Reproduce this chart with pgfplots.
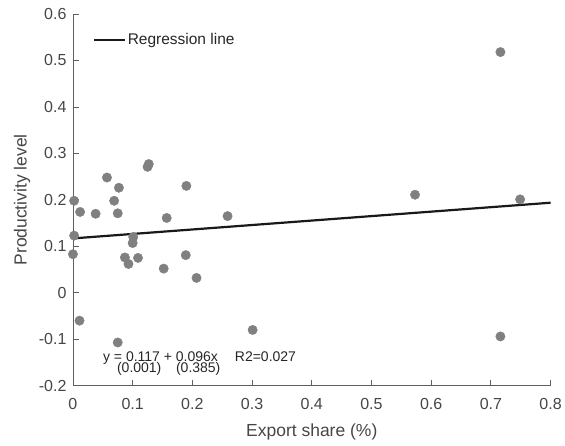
\documentclass[border=0pt]{standalone}
\usepackage{pgfplots}
\pgfplotsset{compat=1.18}
\usepackage{fontspec}
\setmainfont{Liberation Sans}
\definecolor{axgray}{RGB}{95,95,95}
\definecolor{txtgray}{RGB}{70,70,70}
\definecolor{ptgray}{RGB}{128,128,128}
\begin{document}
\begin{tikzpicture}[x=1pt,y=1pt]
\begin{axis}[
  scale only axis, width=478pt, height=372pt,
  xmin=0, xmax=0.8, ymin=-0.2, ymax=0.6,
  axis x line*=bottom, axis y line*=left,
  axis line style={axgray, line width=0.8pt},
  xtick={0,0.1,...,0.8}, ytick={-0.2,-0.1,...,0.6},
  tick style={axgray, line width=0.8pt}, tick align=inside, major tick length=6pt,
  xticklabel style={/pgf/number format/fixed, /pgf/number format/precision=1, yshift=-9pt},
  yticklabel style={/pgf/number format/fixed, /pgf/number format/precision=1, xshift=-3pt},
  /pgf/number format/assume math mode=true,
  tick label style={font=\fontsize{16}{18}\selectfont, text=txtgray},
  xlabel={Export share (\%)}, ylabel={Productivity level},
  label style={font=\fontsize{17.5}{20}\selectfont, text=txtgray},
  xlabel style={at={(axis description cs:0.5,0)}, anchor=center, yshift=-46pt},
  ylabel style={at={(axis description cs:0,0.5)}, anchor=center, xshift=0pt, yshift=51pt},
  legend style={draw=none, fill=none, at={(axis description cs:0.0418,0.930)}, anchor=west, inner sep=0pt,
    font=\fontsize{15.5}{17}\selectfont, text=black!85, nodes={inner sep=1.5pt}},
  legend image code/.code={\draw[#1] (0pt,0pt) -- (31pt,0pt);},
  legend cell align=left,
]
\addplot[black!90, line width=2.2pt] coordinates {(0,0.117) (0.8,0.1938)};
\addlegendentry{Regression line}
\addplot[only marks, mark=*, mark size=4.7pt, mark options={fill=ptgray, draw=ptgray}] coordinates {
(0.002,0.198) (0.012,0.174) (0.038,0.170) (0.057,0.248) (0.077,0.226)
(0.069,0.198) (0.075,0.171) (0.127,0.277) (0.125,0.271) (0.190,0.230)
(0.157,0.161) (0.259,0.165) (0.002,0.123) (0.000,0.083) (0.101,0.120)
(0.100,0.107) (0.087,0.076) (0.093,0.062) (0.109,0.075) (0.152,0.052)
(0.189,0.081) (0.207,0.032) (0.011,-0.060) (0.301,-0.080) (0.075,-0.107)
(0.716,0.518) (0.573,0.211) (0.749,0.201) (0.716,-0.094)
};
\node[anchor=base west, font=\fontsize{14}{14}\selectfont, text=black!85, inner sep=0pt] at (axis cs:0.0502,-0.1484) {y = 0.117 + 0.096x};
\node[anchor=base west, font=\fontsize{14}{14}\selectfont, text=black!85, inner sep=0pt] at (axis cs:0.271,-0.1484) {R2=0.027};
\node[anchor=base west, font=\fontsize{14}{14}\selectfont, text=black!85, inner sep=0pt] at (axis cs:0.0736,-0.172) {(0.001)};
\node[anchor=base west, font=\fontsize{14}{14}\selectfont, text=black!85, inner sep=0pt] at (axis cs:0.1724,-0.172) {(0.385)};
\end{axis}
\useasboundingbox (-73pt,-60pt) rectangle (492pt,386pt);
\end{tikzpicture}
\end{document}
